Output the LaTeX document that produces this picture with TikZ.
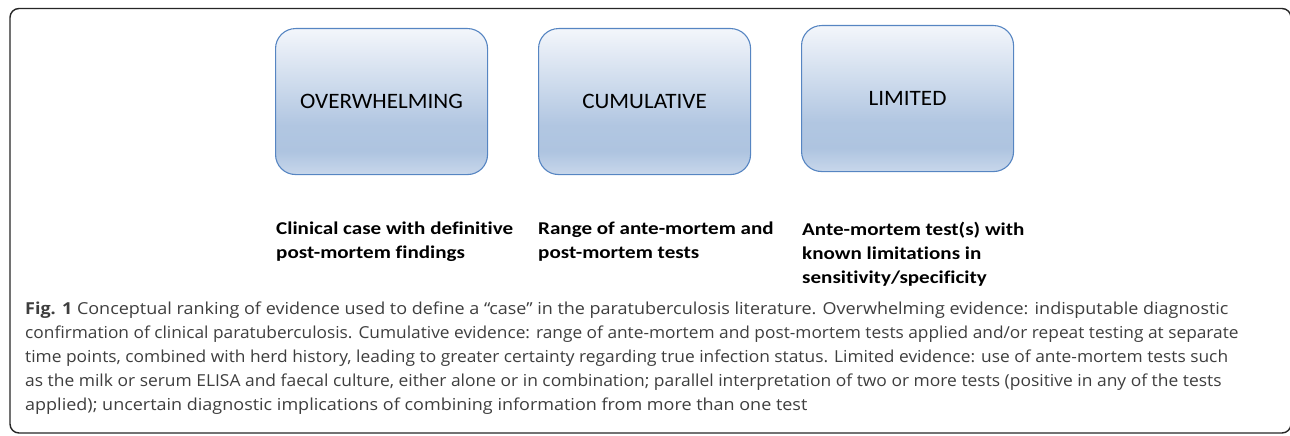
\documentclass[tikz,border=0pt]{standalone}
\usepackage{fontspec}
\usepackage{graphicx}
\setmainfont{Carlito}
\newfontfamily\capfont[FakeStretch=1.09]{Open Sans}
\newfontfamily\labfont[FakeStretch=1.17,Ligatures=NoCommon]{Carlito}
\newfontfamily\boxfont[FakeStretch=1.05]{Carlito}
\definecolor{boxborder}{HTML}{5685C2}
\definecolor{shtop}{HTML}{F3F6FB}
\definecolor{shmid}{HTML}{AEC4E0}
\definecolor{shbot}{HTML}{C8D7EB}
\definecolor{captext}{HTML}{3E3E3E}
\pgfdeclareverticalshading{boxshade}{100bp}{color(0bp)=(shbot); color(25bp)=(shbot); color(33bp)=(shmid); color(42bp)=(shmid!95!shtop); color(75bp)=(shtop); color(100bp)=(shtop)}
\tikzset{
  evbox/.style={draw=boxborder, line width=1.1pt, rounded corners=20pt, shading=boxshade, minimum width=212pt, minimum height=146pt, anchor=north west, inner sep=0pt},
  boxtext/.style={font=\boxfont\fontsize{22}{26}\selectfont, text=black, anchor=center, inner sep=0pt},
  evlabel/.style={font=\labfont\fontsize{18}{24}\selectfont\bfseries, text=black, anchor=north west, align=left, inner sep=0pt},
  capline/.style={font=\capfont\fontsize{16.5}{24}\selectfont, text=captext, anchor=base west, inner sep=0pt}
}
\begin{document}
\begin{tikzpicture}[x=1pt,y=-1pt]
\useasboundingbox (0,0) rectangle (1290,436);
\begin{scope}
\clip (0,0) rectangle (1290,436);
\draw[line width=1.4pt, black!85, rounded corners=9pt] (10,8.5) rectangle (1291,433);
\end{scope}
\node[evbox] (b1) at (275,28) {};
\node[evbox] (b2) at (538,28) {};
\node[evbox] (b3) at (801,25) {};
\node[boxtext] (t1) at (b1.center) {OVERWHELMING};
\node[boxtext] (t2) at (b2.center) {CUMULATIVE};
\node[boxtext] (t3) at (b3.center) {LIMITED};
\node[evlabel] (l1) at (276,222) {Clinical case with definitive\\post-mortem findings};
\node[evlabel] (l2) at (538,222) {Range of ante-mortem and\\post-mortem tests};
\node[evlabel] (l3) at (802,222) {Ante-mortem test(s) with\\known limitations in\\sensitivity/specificity};
\node[capline] (c1) at (25,314) {\textbf{Fig. 1} Conceptual ranking of evidence used to define a “case” in the paratuberculosis literature. Overwhelming evidence: indisputable diagnostic};
\node[capline] (c2) at (25,338) {\scalebox{0.962}[1]{confirmation of clinical paratuberculosis. Cumulative evidence: range of ante-mortem and post-mortem tests applied and/or repeat testing at separate}};
\node[capline] (c3) at (25,362) {\scalebox{0.965}[1]{time points, combined with herd history, leading to greater certainty regarding true infection status. Limited evidence: use of ante-mortem tests such}};
\node[capline] (c4) at (25,386) {\scalebox{0.969}[1]{as the milk or serum ELISA and faecal culture, either alone or in combination; parallel interpretation of two or more tests (positive in any of the tests}};
\node[capline] (c5) at (25,410) {applied); uncertain diagnostic implications of combining information from more than one test};
\end{tikzpicture}
\end{document}
